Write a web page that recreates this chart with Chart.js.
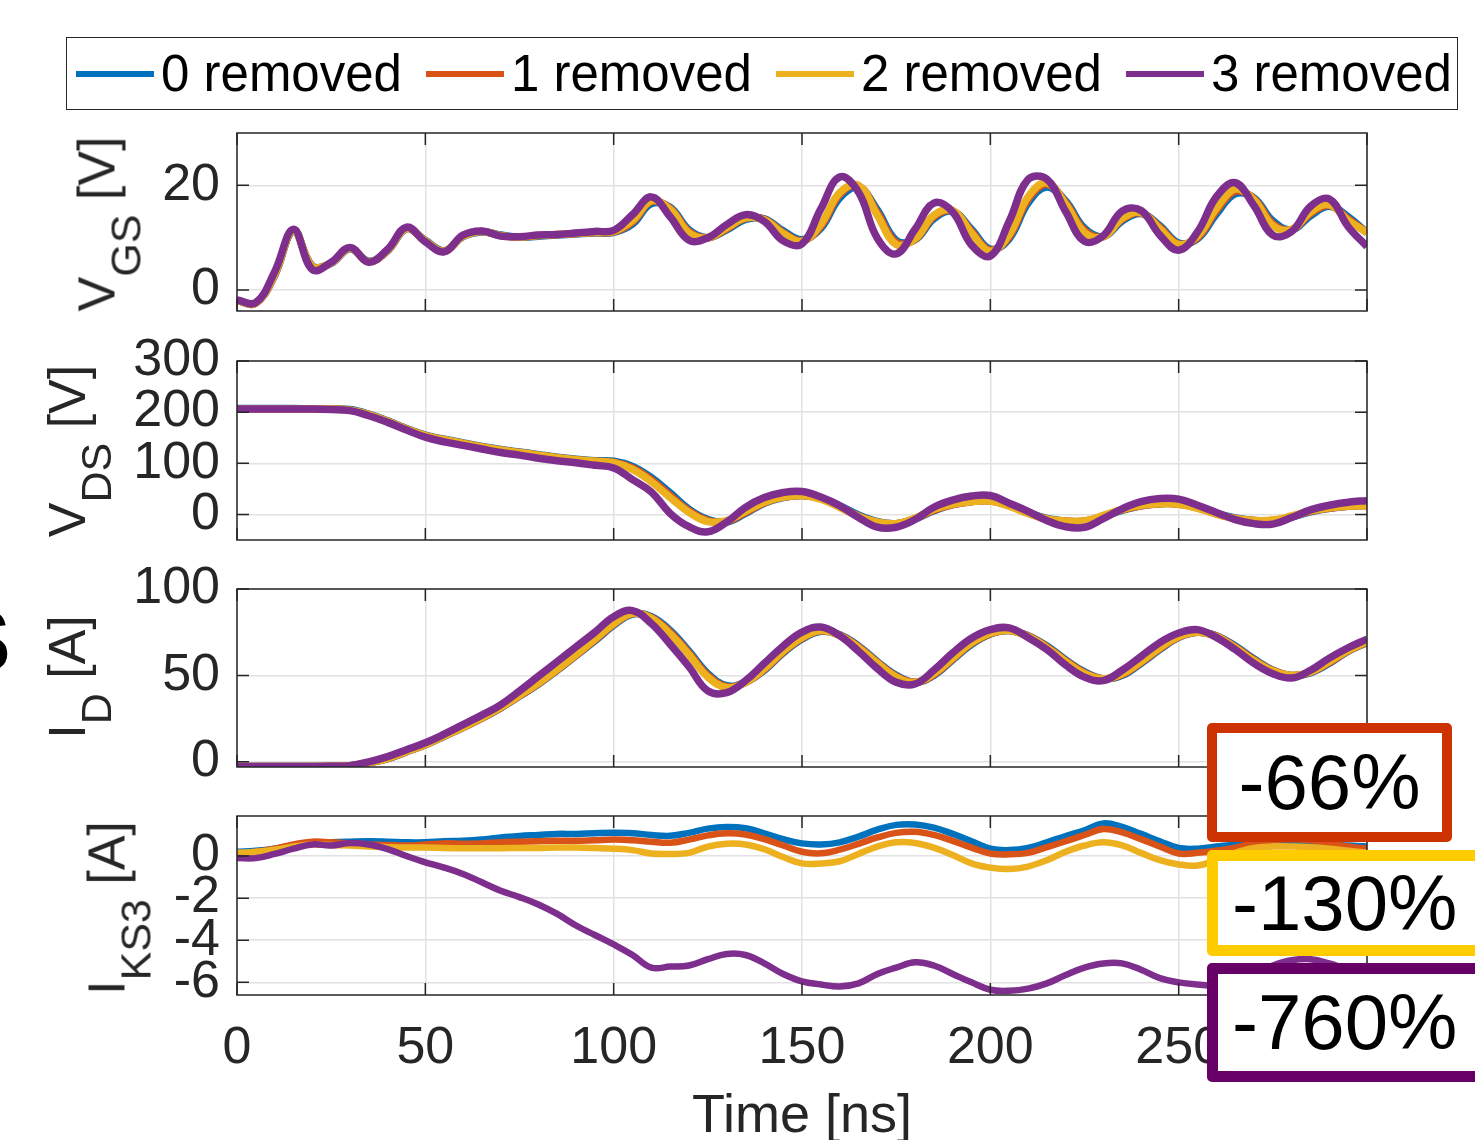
<!DOCTYPE html>
<html>
<head>
<meta charset="utf-8">
<script src="https://cdn.jsdelivr.net/npm/chart.js@4.4.0/dist/chart.umd.min.js"></script>
<style>
  html, body { margin: 0; padding: 0; background: #fff; overflow: hidden; }
  #page { position: relative; width: 1475px; height: 1140px; overflow: hidden;
          font-family: "Liberation Sans", Arial, sans-serif; }
  .panel { position: absolute; left: 0; }
  .ylab { position: absolute; transform: translate(-50%, -50%) rotate(-90deg);
          font-size: 52px; line-height: 1; white-space: nowrap; color: #262626; }
  .ylab sub { font-size: 43px; vertical-align: -26px; line-height: 1; }
  #legend { position: absolute; left: 66px; top: 37px; width: 1392px; height: 73px;
            box-sizing: border-box; border: 1.5px solid #262626; background: #fff;
            display: flex; align-items: center; padding-left: 9px; font-size: 51px; color: #000; }
  #legend .item { display: flex; align-items: center; margin-right: 24px; white-space: nowrap; }
  #legend .item i { display: inline-block; width: 78px; height: 6px; margin-right: 7px; }
  .note { position: absolute; box-sizing: border-box; background: #fff; border-style: solid;
          border-radius: 5px; display: flex; align-items: center; font-size: 78px; color: #000;
          z-index: 5; white-space: nowrap; }
  .cut { position: absolute; left: -48px; top: 590px; font-size: 88px; font-weight: bold; color: #000; }
</style>
</head>
<body>
<div id="page">
  <div class="panel" style="top:83px"><canvas id="cVgs" width="1475" height="278"></canvas></div>
  <div class="panel" style="top:311px"><canvas id="cVds" width="1475" height="279"></canvas></div>
  <div class="panel" style="top:539px"><canvas id="cId" width="1475" height="278"></canvas></div>
  <div class="panel" style="top:766px"><canvas id="cIks" width="1475" height="384"></canvas></div>

  <div class="ylab" style="left:109px;top:224px">V<sub>GS</sub> [V]</div>
  <div class="ylab" style="left:79px;top:451px">V<sub>DS</sub> [V]</div>
  <div class="ylab" style="left:79px;top:677px">I<sub>D</sub> [A]</div>
  <div class="ylab" style="left:119px;top:908px">I<sub>KS3</sub> [A]</div>

  <div id="legend"></div>
  <div class="cut">S</div>

  <div class="note" style="left:1207px;top:723px;width:245px;height:119px;border-width:10px;border-color:#CC3300;justify-content:center">-66%</div>
  <div class="note" style="left:1207px;top:850px;width:290px;height:106px;border-width:11px;border-color:#FFCC00;padding-left:14px">-130%</div>
  <div class="note" style="left:1207px;top:963px;width:290px;height:119px;border-width:11px;border-color:#660066;padding-left:14px">-760%</div>
</div>

<script>
const timeNs = [0, 5, 10, 15, 20, 25, 30, 35, 40, 45, 50, 55, 60, 65, 70, 75, 80, 85, 90, 95,
  100, 105, 110, 115, 120, 125, 130, 135, 140, 145, 150, 155, 160, 165, 170, 175, 180, 185, 190, 195,
  200, 205, 210, 215, 220, 225, 230, 235, 240, 245, 250, 255, 260, 265, 270, 275, 280, 285, 290, 295, 300];

const seriesLabels = ["0 removed", "1 removed", "2 removed", "3 removed"];
const seriesColors = ["#0072BD", "#D95319", "#EDB120", "#7E2F8E"];

const timeTicks = [0, 50, 100, 150, 200, 250, 300];
const vgsTicks = [0, 20];
const vdsTicks = [0, 100, 200, 300];
const idTicks = [0, 50, 100];
const iksTicks = [-6, -4, -2, 0];

// V_GS [V]
const vgs0 = [-2.0, -2.5, 2.8, 11.3, 4.6, 5.1, 7.9, 5.5, 7.5, 11.7, 9.5, 7.5, 10.2, 11.1, 10.5, 10.1, 10.3, 10.5, 10.7, 10.9,
  11.0, 12.6, 16.5, 15.8, 11.5, 10.0, 11.5, 13.5, 13.6, 11.3, 9.6, 11.8, 17.6, 19.6, 15.3, 9.5, 9.6, 13.6, 15.0, 11.6,
  7.8, 9.8, 16.6, 19.7, 17.0, 11.8, 10.2, 13.2, 14.6, 12.3, 9.0, 9.8, 14.5, 18.4, 17.6, 13.2, 11.5, 14.2, 16.0, 14.0, 10.9];
const vgs1 = [-2.0, -2.5, 2.9, 11.4, 4.5, 5.2, 8.0, 5.4, 7.6, 11.8, 9.4, 7.4, 10.3, 11.2, 10.4, 10.1, 10.4, 10.6, 10.8, 11.0,
  11.1, 13.0, 16.9, 15.6, 11.2, 10.0, 11.7, 13.7, 13.5, 11.0, 9.4, 12.2, 18.2, 19.9, 14.8, 9.1, 9.7, 14.0, 15.1, 11.2,
  7.6, 10.2, 17.3, 20.2, 16.7, 11.4, 10.2, 13.5, 14.7, 12.0, 8.8, 10.0, 15.1, 18.9, 17.4, 12.7, 11.5, 14.6, 16.2, 13.6, 11.0];
const vgs2 = [-2.0, -2.5, 3.0, 11.4, 4.5, 5.2, 8.0, 5.4, 7.6, 11.8, 9.4, 7.4, 10.3, 11.2, 10.4, 10.1, 10.4, 10.6, 10.8, 11.0,
  11.2, 13.3, 17.1, 15.4, 10.9, 10.0, 11.9, 13.8, 13.4, 10.8, 9.3, 12.6, 18.6, 20.0, 14.3, 8.7, 9.8, 14.3, 15.2, 10.9,
  7.4, 10.6, 17.8, 20.5, 16.4, 11.0, 10.2, 13.7, 14.8, 11.7, 8.7, 10.3, 15.6, 19.3, 17.2, 12.3, 11.6, 14.9, 16.3, 13.3, 11.0];
const vgs3 = [-1.9, -2.4, 3.5, 11.6, 3.9, 5.3, 8.15, 5.3, 7.8, 12.0, 9.2, 7.3, 10.5, 11.3, 10.3, 10.2, 10.5, 10.6, 10.9, 11.2,
  11.4, 14.4, 17.8, 14.0, 9.5, 10.0, 12.5, 14.4, 13.1, 9.4, 8.8, 15.5, 21.6, 18.7, 9.9, 6.9, 11.6, 16.6, 14.9, 8.6,
  6.5, 13.1, 21.1, 21.2, 15.0, 9.3, 10.4, 15.1, 15.2, 10.5, 7.6, 11.1, 17.8, 20.5, 16.1, 10.5, 11.2, 16.0, 17.4, 12.1, 8.3];

// V_DS [V]
const vds0 = [207, 207, 207, 207, 206, 206, 205, 196, 183, 168, 155, 147, 140, 133, 127, 122, 117, 112, 108, 105,
  104, 94, 72, 42, 10, -10, -15, 2, 22, 33, 37, 32, 17, -1, -14, -18, -9, 7, 19, 25,
  27, 18, 4, -8, -13, -14, -4, 8, 17, 21, 21, 14, 2, -7, -12, -12, -5, 5, 12, 16, 18];
const vds1 = [206, 206, 206, 206, 206, 206, 204, 195, 182, 167, 154, 146, 139, 132, 126, 121, 116, 111, 107, 104,
  102, 91, 68, 37, 7, -12, -14, 4, 23, 34, 37, 31, 15, -3, -15, -18, -8, 8, 19, 25,
  26, 17, 3, -9, -13, -13, -3, 9, 17, 21, 20, 13, 1, -8, -12, -12, -4, 6, 12, 16, 17];
const vds2 = [206, 206, 206, 206, 206, 206, 204, 195, 182, 167, 154, 146, 139, 132, 126, 121, 116, 111, 107, 104,
  101, 88, 64, 33, 4, -14, -12, 6, 24, 34, 37, 30, 14, -4, -15, -18, -7, 10, 20, 25,
  26, 16, 2, -9, -13, -13, -2, 10, 18, 21, 20, 12, 1, -8, -12, -11, -3, 7, 13, 16, 17];
const vds3 = [206, 206, 206, 206, 206, 205, 203, 193, 180, 165, 151, 142, 135, 128, 121, 116, 110, 105, 101, 96,
  91, 68, 44, 2, -24, -34, -15, 14, 33, 43, 45, 34, 17, -6, -25, -25, -10, 14, 28, 36,
  37, 22, 6, -12, -24, -25, -8, 11, 25, 31, 30, 18, 4, -10, -18, -19, -6, 9, 18, 24, 27];

// I_D [A]
const id0 = [-2.7, -2.7, -2.7, -2.7, -2.7, -2.6, -2.3, -0.6, 1.8, 5.8, 9.8, 14.8, 19.8, 25.2, 31.2, 38, 45, 53, 61.5, 70,
  79, 85.5, 84, 76, 64, 51, 44, 46, 53, 63, 71, 75.5, 73.5, 67, 58, 50, 46, 50, 59, 68,
  74, 76, 73, 67, 59, 52, 48, 50, 57, 65, 72, 75, 73, 67, 59.5, 53, 50, 51.5, 57, 64, 69];
const id1 = [-2.7, -2.7, -2.7, -2.7, -2.7, -2.6, -2.3, -0.5, 1.9, 5.9, 9.9, 14.9, 19.9, 25.3, 31.3, 38.2, 45.2, 53.2, 61.7, 70.5,
  79.5, 85.8, 83.5, 75, 63, 50, 43.5, 46, 53.5, 63.5, 71.5, 75.8, 73.3, 66.5, 57.5, 49.5, 46, 50.5, 59.5, 68.5,
  74.2, 76, 72.8, 66.5, 58.5, 51.5, 48, 50.5, 57.5, 65.5, 72.2, 75, 72.8, 66.5, 59, 52.8, 50, 51.8, 57.5, 64.2, 69.2];
const id2 = [-2.7, -2.7, -2.7, -2.7, -2.7, -2.6, -2.3, -0.5, 2, 6, 10, 15, 20, 25.5, 31.5, 38.5, 45.5, 53.5, 62, 71,
  80, 86, 83, 74, 62, 49, 43, 46, 54, 64, 72, 76, 73, 66, 57, 49, 46, 51, 60, 69,
  74.5, 76, 72.5, 66, 58, 51, 48, 51, 58, 66, 72.5, 75, 72.5, 66, 58.5, 52.5, 50, 52, 58, 64.5, 69.5];
const id3 = [-2.7, -2.7, -2.7, -2.7, -2.7, -2.6, -2.2, 0, 3, 7, 11, 16, 21.5, 27, 33, 41, 49.5, 58, 66.5, 75,
  84, 87.5, 80, 68, 55, 41, 40, 47, 57, 67, 75, 78, 73, 64, 54, 46, 45, 53, 63, 71.5,
  76.5, 77.5, 72, 65, 56, 49, 47, 53, 61, 69, 74.5, 76.5, 72, 65, 57, 51, 48.5, 53, 60, 66, 71];

// I_KS3 [A]
const iks0 = [0.2, 0.25, 0.35, 0.5, 0.6, 0.65, 0.68, 0.7, 0.68, 0.65, 0.65, 0.7, 0.72, 0.78, 0.88, 0.95, 1.0, 1.05, 1.05, 1.08,
  1.1, 1.08, 1.0, 0.96, 1.1, 1.3, 1.38, 1.32, 1.08, 0.8, 0.6, 0.55, 0.65, 0.92, 1.25, 1.48, 1.5, 1.35, 1.05, 0.7,
  0.35, 0.28, 0.38, 0.65, 0.95, 1.22, 1.55, 1.38, 1.05, 0.7, 0.38, 0.35, 0.45, 0.55, 0.68, 0.75, 0.72, 0.65, 0.55, 0.5, 0.45];
const iks1 = [0.1, 0.2, 0.35, 0.55, 0.68, 0.65, 0.6, 0.55, 0.52, 0.5, 0.55, 0.6, 0.58, 0.6, 0.65, 0.68, 0.7, 0.72, 0.72, 0.75,
  0.78, 0.75, 0.68, 0.63, 0.78, 0.98, 1.08, 1.02, 0.8, 0.5, 0.2, 0.13, 0.3, 0.58, 0.88, 1.1, 1.15, 1.0, 0.72, 0.4,
  0.12, 0.08, 0.15, 0.42, 0.7, 1.0, 1.28, 1.12, 0.8, 0.45, 0.12, 0.15, 0.25, 0.4, 0.6, 0.75, 0.8, 0.75, 0.6, 0.45, 0.35];
const iks2 = [0.15, 0.2, 0.3, 0.45, 0.55, 0.52, 0.5, 0.45, 0.42, 0.4, 0.4, 0.38, 0.37, 0.37, 0.37, 0.38, 0.38, 0.4, 0.4, 0.38,
  0.35, 0.28, 0.12, 0.1, 0.15, 0.45, 0.58, 0.55, 0.32, -0.05, -0.35, -0.35, -0.25, 0.1, 0.45, 0.65, 0.62, 0.4, 0.05, -0.35,
  -0.55, -0.62, -0.5, -0.2, 0.2, 0.5, 0.65, 0.5, 0.15, -0.2, -0.4, -0.45, -0.2, 0.15, 0.38, 0.45, 0.45, 0.42, 0.35, 0.25, 0.15];
const iks3 = [-0.1, -0.1, 0.1, 0.35, 0.55, 0.5, 0.62, 0.55, 0.33, 0.0, -0.3, -0.55, -0.85, -1.25, -1.65, -1.95, -2.3, -2.75, -3.3, -3.75,
  -4.2, -4.7, -5.3, -5.25, -5.2, -4.9, -4.65, -4.7, -5.1, -5.6, -5.95, -6.1, -6.2, -6.05, -5.6, -5.3, -5.05, -5.2, -5.6, -6.0,
  -6.35, -6.4, -6.3, -6.05, -5.65, -5.3, -5.1, -5.1, -5.4, -5.8, -6.0, -6.1, -6.15, -6.0, -5.6, -5.2, -4.95, -4.9, -5.1, -5.4, -5.6];

Chart.defaults.font.family = '"Liberation Sans", Arial, sans-serif';
const axisColor = "#262626";
const gridColor = "#e2e2e2";

// MATLAB style box with inward ticks on all four sides
const boxPlugin = {
  id: "matlabBox",
  afterDraw(chart) {
    const { ctx, chartArea: a, scales } = chart;
    ctx.save();
    ctx.strokeStyle = axisColor;
    ctx.lineWidth = 1.5;
    ctx.beginPath();
    scales.x.ticks.forEach(t => {
      const px = scales.x.getPixelForValue(t.value);
      ctx.moveTo(px, a.bottom); ctx.lineTo(px, a.bottom - 12);
      ctx.moveTo(px, a.top); ctx.lineTo(px, a.top + 12);
    });
    scales.y.ticks.forEach(t => {
      const py = scales.y.getPixelForValue(t.value);
      ctx.moveTo(a.left, py); ctx.lineTo(a.left + 12, py);
      ctx.moveTo(a.right, py); ctx.lineTo(a.right - 12, py);
    });
    ctx.stroke();
    ctx.strokeRect(a.left, a.top, a.right - a.left, a.bottom - a.top);
    ctx.restore();
  }
};

function makePanel(id, series, yMin, yMax, yTicks, showX, lineW) {
  new Chart(document.getElementById(id), {
    type: "line",
    data: {
      datasets: series.map((vals, i) => ({
        label: seriesLabels[i],
        data: vals.map((v, k) => ({ x: timeNs[k], y: v })),
        borderColor: seriesColors[i],
        borderWidth: lineW,
        pointRadius: 0,
        tension: 0.4,
        fill: false,
        order: 3 - i
      }))
    },
    options: {
      responsive: false,
      animation: false,
      events: [],
      layout: { padding: { top: 50, bottom: showX ? 0 : 50, left: 0, right: 108 } },
      plugins: { legend: { display: false }, tooltip: { enabled: false } },
      scales: {
        x: {
          type: "linear", min: 0, max: 300,
          afterBuildTicks: s => { s.ticks = timeTicks.map(v => ({ value: v })); },
          afterFit: s => { s.height = showX ? 155 : 0; },
          grid: { color: gridColor, lineWidth: 1.5, drawTicks: false },
          border: { display: false },
          ticks: { display: showX, padding: 22, autoSkip: false, maxRotation: 0,
                   font: { size: 52 }, color: axisColor },
          title: { display: showX, text: "Time [ns]", font: { size: 54 }, color: axisColor, padding: 0 }
        },
        y: {
          min: yMin, max: yMax,
          afterBuildTicks: s => { s.ticks = yTicks.map(v => ({ value: v })); },
          afterFit: s => { s.width = 237; },
          grid: { color: gridColor, lineWidth: 1.5, drawTicks: false },
          border: { display: false },
          ticks: { padding: 17, autoSkip: false, font: { size: 52 }, color: axisColor }
        }
      }
    },
    plugins: [boxPlugin]
  });
}

makePanel("cVgs", [vgs0, vgs1, vgs2, vgs3], -4, 30, vgsTicks, false, 7.5);
makePanel("cVds", [vds0, vds1, vds2, vds3], -50, 300, vdsTicks, false, 7.5);
makePanel("cId", [id0, id1, id2, id3], -3, 100, idTicks, false, 7.5);
makePanel("cIks", [iks0, iks1, iks2, iks3], -6.6, 1.9, iksTicks, true, 6.5);

const legend = document.getElementById("legend");
seriesLabels.forEach((name, i) => {
  const item = document.createElement("span");
  item.className = "item";
  item.innerHTML = `<i style="background:${seriesColors[i]}"></i>${name}`;
  legend.appendChild(item);
});
</script>
</body>
</html>
